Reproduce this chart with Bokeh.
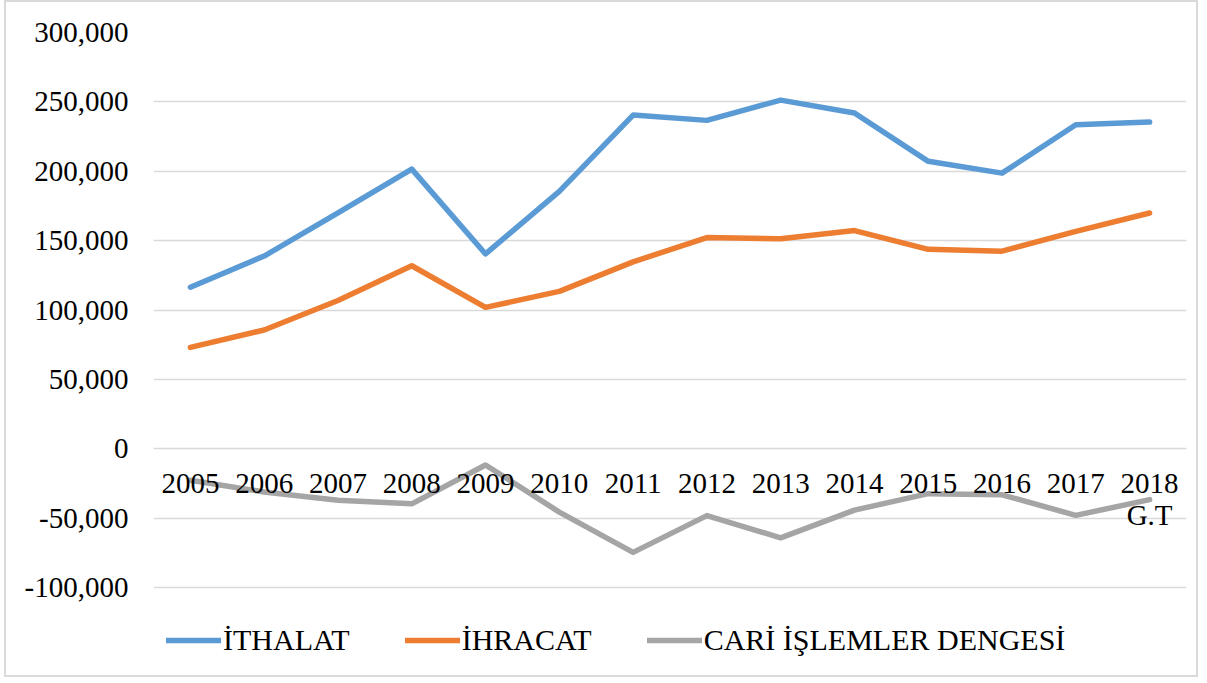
from bokeh.plotting import figure
from bokeh.models import Range1d, FactorRange, NumeralTickFormatter, FixedTicker, Legend, LegendItem
from bokeh.embed import file_html
from bokeh.resources import INLINE

years = ["2005", "2006", "2007", "2008", "2009", "2010", "2011", "2012",
         "2013", "2014", "2015", "2016", "2017", "2018\nG.T"]
ithalat = [116500, 139000, 170000, 201600, 140500, 185500, 240500, 236700,
           251300, 242000, 207200, 198700, 233500, 235500]
ihracat = [73200, 85700, 107000, 132000, 102000, 113500, 134800, 152300,
           151500, 157300, 143800, 142500, 156700, 170000]
cari = [-22500, -31000, -37000, -39500, -11500, -45500, -74500, -48000,
        -64000, -44000, -32200, -33000, -47800, -36500]
names = ["İTHALAT", "İHRACAT", "CARİ İŞLEMLER DENGESİ"]
colors = ["#5B9BD5", "#ED7D31", "#A5A5A5"]
yticks = [-100000, -50000, 0, 50000, 100000, 150000, 200000, 250000, 300000]

FONT = "Liberation Serif"

# lower bound extends the frame below the last gridline to host the legend
p = figure(width=1194, height=677, x_range=FactorRange(*years),
           y_range=Range1d(-161000, 300000), output_backend="svg",
           toolbar_location=None)
p.min_border_left = 147
p.min_border_right = 14
p.min_border_top = 30
p.min_border_bottom = 7
p.outline_line_color = None
p.background_fill_color = "white"
p.border_fill_color = "white"
p.styles = {"border": "2px solid #D9D9D9", "margin-left": "4px"}

renderers = []
for vals, c in zip([ithalat, ihracat, cari], colors):
    r = p.line(years, vals, line_color=c, line_width=5.5, line_join="round", line_cap="round")
    renderers.append(r)

p.xgrid.visible = False
p.ygrid.ticker = FixedTicker(ticks=yticks)
p.ygrid.grid_line_color = "#D9D9D9"
p.ygrid.grid_line_width = 1.5
p.yaxis.ticker = FixedTicker(ticks=yticks)
p.yaxis.formatter = NumeralTickFormatter(format="0,0")

for ax in [p.xaxis[0], p.yaxis[0]]:
    ax.axis_line_color = None
    ax.major_tick_line_color = None
    ax.minor_tick_line_color = None
    ax.major_tick_in = 0
    ax.major_tick_out = 0
    ax.major_label_text_font = FONT
    ax.major_label_text_font_size = "29px"
    ax.major_label_text_color = "black"

p.yaxis.major_label_standoff = 25
p.xaxis.fixed_location = 0
p.xaxis.major_label_standoff = 18
p.xaxis.major_label_text_line_height = 1.0

legend = Legend(items=[LegendItem(label=n, renderers=[r]) for n, r in zip(names, renderers)],
                orientation="horizontal", location=(13, 15))
legend.label_text_font = FONT
legend.label_text_font_size = "30px"
legend.label_text_color = "black"
legend.glyph_width = 55
legend.glyph_height = 30
legend.label_standoff = 2
legend.spacing = 55
legend.padding = 5
legend.margin = 0
legend.border_line_color = None
legend.background_fill_alpha = 0
p.add_layout(legend, "center")

open("out.html", "w").write(file_html(p, INLINE))
